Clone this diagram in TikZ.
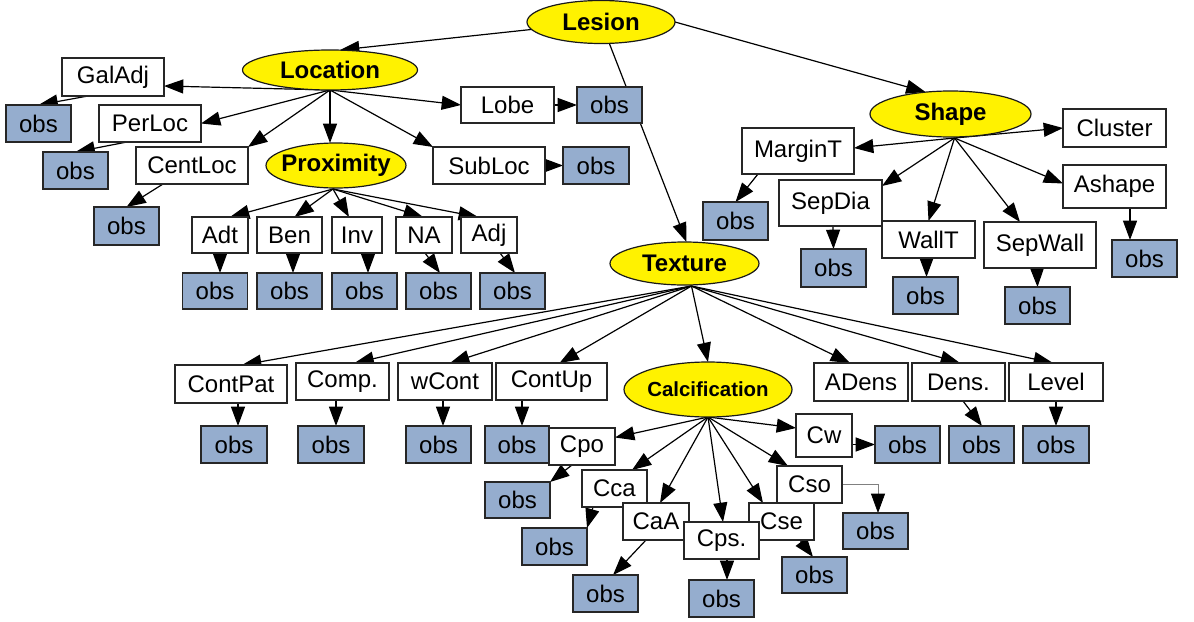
\documentclass[tikz,border=0pt]{standalone}
\usepackage{fontspec}
\setmainfont{Liberation Sans}
\usetikzlibrary{arrows.meta,shapes.geometric,calc}
\definecolor{obsblue}{RGB}{149,173,206}
\pgfdeclarelayer{edges}
\pgfsetlayers{edges,main}
% zero-width label so the ellipse keeps its given size
\newcommand\zw[1]{\makebox[0pt][c]{#1}}
\begin{document}
\begin{tikzpicture}[x=0.75pt,y=-0.75pt,
  every node/.style={inner sep=0pt, outer sep=0pt, font=\fontsize{18}{20}\selectfont},
  sz/.style 2 args={minimum width=#1*0.75pt, minimum height=#2*0.75pt},
  box/.style={rectangle, draw=black!85, line width=0.9pt, fill=white},
  obs/.style={box, fill=obsblue, sz={65}{37}},
  var/.style={ellipse, draw=black!90, line width=0.9pt, fill=yellow,
              font=\bfseries\fontsize{18}{20}\selectfont},
  arr/.style={line width=0.9pt, -{Triangle[length=14.5pt,width=10.5pt]}},
  thinarr/.style={line width=0.5pt, draw=gray, -{Triangle[length=14.5pt,width=10.5pt,color=black]}}
]
\useasboundingbox (0,0) rectangle (1194,621);

% ---------- latent variables ----------
\node[var, sz={148}{43}] (Lesion)    at (601,22)    {\zw{Lesion}};
\node[var, sz={175}{40}] (Location)  at (330,70)    {\zw{Location}};
\node[var, sz={140}{45}] (Proximity) at (336,165.5) {\zw{Proximity}};
\node[var, sz={161}{46}] (Shape)     at (950.5,114) {\zw{Shape}};
\node[var, sz={149}{43}] (Texture)   at (684.5,263.5) {\zw{Texture}};
\node[var, sz={168}{55}, font=\bfseries\fontsize{15.3}{17}\selectfont]
      (Calc) at (708,389.5) {\zw{Calcification}};

% ---------- location branch ----------
\node[box, sz={102}{38}] (GalAdj)  at (113,77)    {GalAdj};
\node[obs]               (oGalAdj) at (38.5,123.5) {obs};
\node[box, sz={102}{37}] (PerLoc)  at (150,123.5) {PerLoc};
\node[obs]               (oPerLoc) at (75.5,170.5) {obs};
\node[box, sz={112}{37}] (CentLoc) at (192,165.5) {CentLoc};
\node[obs, sz={65}{38}]  (oCentLoc) at (126.5,226) {obs};
\node[box, sz={93}{36}]  (Lobe)    at (507.5,105) {Lobe};
\node[obs, sz={65}{36}]  (oLobe)   at (609.5,105) {obs};
\node[box, sz={112}{37}] (SubLoc)  at (489,165.5) {SubLoc};
\node[obs, sz={66}{37}]  (oSubLoc) at (596,165.5) {obs};

% ---------- proximity branch ----------
\node[box, sz={56}{36}] (Adt) at (220,235)   {Adt};
\node[box, sz={65}{36}] (Ben) at (289.5,235) {Ben};
\node[box, sz={50}{36}] (Inv) at (357,235)   {Inv};
\node[box, sz={56}{36}] (NA)  at (424,235)   {NA};
\node[box, sz={56}{36}] (Adj) at (489,235)   {Adj};
\node[obs, sz={65}{36}] (oAdt) at (215,291)   {obs};
\node[obs, sz={65}{36}] (oBen) at (289.5,291) {obs};
\node[obs, sz={65}{36}] (oInv) at (364.5,291) {obs};
\node[obs, sz={65}{36}] (oNA)  at (438.5,291) {obs};
\node[obs, sz={65}{36}] (oAdj) at (512.5,291) {obs};

% ---------- shape branch ----------
\node[box, sz={112}{46}] (MarginT) at (798,151)     {MarginT};
\node[obs, sz={65}{38}]  (oMarginT) at (735.5,221)  {obs};
\node[box, sz={103}{38}] (Cluster) at (1114.5,128)  {Cluster};
\node[box, sz={103}{43}] (Ashape)  at (1114.5,186.5) {Ashape};
\node[obs]               (oAshape) at (1144.5,258.5) {obs};
\node[box, sz={103}{46}] (SepDia)  at (830.5,203)   {SepDia};
\node[obs, sz={65}{38}]  (oSepDia) at (833.5,268)   {obs};
\node[box, sz={93}{37}]  (WallT)   at (928.5,239.5) {WallT};
\node[obs]               (oWallT)  at (925.5,295.5) {obs};
\node[box, sz={112}{46}] (SepWall) at (1040,245)    {SepWall};
\node[obs]               (oSepWall) at (1037.5,305.5) {obs};

% ---------- texture branch ----------
\node[box, sz={112}{38}] (ContPat) at (231,384)     {ContPat};
\node[box, sz={93}{37}]  (Comp)    at (342.5,381.5) {Comp.};
\node[box, sz={94}{37}]  (wCont)   at (445,381.5)   {wCont};
\node[box, sz={111}{37}] (ContUp)  at (551.5,381.5) {ContUp};
\node[obs, sz={66}{37}]  (oContPat) at (234,444.5)  {obs};
\node[obs, sz={66}{37}]  (oComp)   at (331,444.5)   {obs};
\node[obs]               (owCont)  at (438.5,444.5) {obs};
\node[obs, sz={64}{37}]  (oContUp) at (517,444.5)   {obs};
\node[box, sz={94}{38}]  (ADens)   at (861,382)     {ADens};
\node[box, sz={93}{38}]  (Dens)    at (958.5,382)   {Dens.};
\node[box, sz={94}{38}]  (Level)   at (1056,382)    {Level};
\node[obs]               (oDens)   at (981.5,444.5) {obs};
\node[obs, sz={66}{37}]  (oLevel)  at (1056,444.5)  {obs};

% ---------- calcification branch ----------
\node[box, sz={56}{43}] (Cw)   at (824,435.5)   {Cw};
\node[obs]              (oCw)  at (907.5,444.5) {obs};
\node[box, sz={66}{37}] (Cpo)  at (582,446.5)   {Cpo};
\node[obs, sz={65}{36}] (oCpo) at (517.5,500)   {obs};
\node[box, sz={65}{37}] (Cso)  at (809.5,484.5) {Cso};
\node[obs, sz={65}{36}] (oCso) at (875.5,531)   {obs};
\node[box, sz={65}{37}] (Cse)  at (781.5,521.5) {Cse};
\node[obs, sz={65}{36}] (oCse) at (814.5,575)   {obs};
\node[box, sz={65}{37}] (Cca)  at (614.5,488.5) {Cca};
\node[obs]              (oCca) at (554.5,546.5) {obs};
\node[box, sz={66}{37}] (CaA)  at (656,521.5)   {CaA};
\node[obs]              (oCaA) at (605.5,593.5) {obs};
\node[box, sz={75}{37}] (Cps)  at (721.5,540.5) {Cps.};
\node[obs]              (oCps) at (721.5,598.5) {obs};

% ---------- connectors (behind the nodes) ----------
\begin{pgfonlayer}{edges}
\coordinate (pLoc)  at (Location.south);
\coordinate (pProx) at ($(Proximity.south)+(-3,1)$);
\coordinate (pShp)  at ($(Shape.south)+(4,1)$);
\coordinate (pTex)  at ($(Texture.south)+(7,1)$);
\coordinate (pCal)  at (Calc.south);

% root
\draw[arr] (Lesion.center) -- ($(Location.north)+(10,0)$);
\draw[arr] (Lesion.east)   -- ($(Shape.north)+(-25,1)$);
\draw[arr] (Lesion.center) -- ($(Texture.north)+(2,0)$);

% location
\draw[arr] (pLoc) -- ($(GalAdj.east)+(0,9)$);
\draw[arr] (pLoc) -- (PerLoc.east);
\draw[arr] (pLoc) -- (CentLoc.north east);
\draw[arr] (pLoc) -- (pLoc |- Proximity.north);
\draw[arr] (pLoc) -- (Lobe.west);
\draw[arr] (pLoc) -- (SubLoc.north west);
\draw[arr] ($(GalAdj.south)+(-25,0)$)  -- (oGalAdj.north);
\draw[arr] ($(PerLoc.south)+(-23,0)$)  -- (oPerLoc.north);
\draw[arr] ($(CentLoc.south)+(-29,0)$) -- (oCentLoc.north);
\draw[arr] (Lobe.east)   -- (oLobe.west);
\draw[arr] (SubLoc.east) -- (oSubLoc.west);

% proximity
\draw[arr] (pProx) -- ($(Adt.north)+(10,0)$);
\draw[arr] (pProx) -- ($(Ben.north)+(5,0)$);
\draw[arr] (pProx) -- ($(Inv.north)+(-8,0)$);
\draw[arr] (pProx) -- ($(NA.north)+(-1,0)$);
\draw[arr] (pProx) -- ($(Adj.north)+(-11,0)$);
\draw[arr] (Adt.south) -- (Adt.south |- oAdt.north);
\draw[arr] ($(Ben.south)+(3.5,0)$) -- ($(oBen.north)+(3.5,0)$);
\draw[arr] ($(Inv.south)+(11,0)$)  -- ($(oInv.north)+(3.5,0)$);
\draw[arr] ($(NA.south)+(1,0)$)    -- ($(oNA.north)+(1.5,0)$);
\draw[arr] ($(Adj.south)+(11,0)$)  -- ($(oAdj.north)+(2.5,0)$);

% shape
\draw[arr] (pShp) -- ($(MarginT.east)+(0,-3)$);
\draw[arr] (pShp) -- (Cluster.west);
\draw[arr] (pShp) -- ($(SepDia.north east)+(0,6)$);
\draw[arr] (pShp) -- (WallT.north);
\draw[arr] (pShp) -- ($(SepWall.north)+(-20,0)$);
\draw[arr] (pShp) -- ($(Ashape.west)+(0,-3)$);
\draw[arr] ($(MarginT.south)+(-40,0)$) -- (oMarginT.north);
\draw[arr] ($(SepDia.south)+(2.5,0)$)  -- (oSepDia.north);
\draw[arr] ($(WallT.south)+(-2,0)$)    -- ($(oWallT.north)+(1,0)$);
\draw[arr] ($(SepWall.south)+(-3,0)$)  -- (oSepWall.north);
\draw[arr] ($(Ashape.south)+(15.5,0)$) -- ($(oAshape.north)+(-14.5,0)$);

% texture
\draw[arr] (pTex) -- ($(ContPat.north)+(11,0)$);
\draw[arr] (pTex) -- ($(Comp.north)+(12,0)$);
\draw[arr] (pTex) -- ($(wCont.north)+(5,0)$);
\draw[arr] (pTex) -- ($(ContUp.north)+(8,0)$);
\draw[arr] (pTex) -- (Calc.north);
\draw[arr] (pTex) -- ($(ADens.north)+(-11,0)$);
\draw[arr] (pTex) -- ($(Dens.north)+(1.5,0)$);
\draw[arr] (pTex) -- ($(Level.north)+(-3,0)$);
\draw[arr] ($(ContPat.south)+(7,0)$)  -- ($(oContPat.north)+(4,0)$);
\draw[arr] ($(Comp.south)+(-6.5,0)$)  -- ($(oComp.north)+(5,0)$);
\draw[arr] ($(wCont.south)+(-2,0)$)   -- ($(owCont.north)+(4.5,0)$);
\draw[arr] ($(ContUp.south)+(-29.5,0)$) -- ($(oContUp.north)+(5,0)$);
\draw[arr] ($(Dens.south)+(4.5,0)$)   -- ($(oDens.north)+(0.5,0)$);
\draw[arr] (Level.south) -- (oLevel.north);

% calcification
\draw[arr] (pCal) -- ($(Cpo.east)+(0,-9)$);
\draw[arr] (pCal) -- ($(Cca.north)+(17.5,0)$);
\draw[arr] (pCal) -- ($(CaA.north)+(4,0)$);
\draw[arr] (pCal) -- ($(Cps.north)+(1.5,0)$);
\draw[arr] (pCal) -- ($(Cse.north)+(-18.5,0)$);
\draw[arr] (pCal) -- ($(Cso.north)+(-21.5,0)$);
\draw[arr] (pCal) -- ($(Cw.west)+(0,-7.5)$);
\draw[arr] ($(Cw.east)+(0,9)$) -- (oCw.west);
\draw[arr] ($(Cpo.south)+(-10,0)$)   -- (oCpo.north east);
\draw[arr] ($(Cca.south)+(-21.5,0)$) -- (oCca.north east);
\draw[arr] ($(CaA.south)+(-10,0)$)   -- ($(oCaA.north)+(7.5,0)$);
\draw[arr] ($(Cps.south)+(5.5,0)$)   -- ($(oCps.north)+(5.5,0)$);
\draw[arr] ($(Cse.south)+(18.5,0)$)  -- ($(oCse.north)+(-1.5,0)$);
\draw[thinarr] (Cso.east) -| ($(oCso.north)+(2.5,0)$);
\end{pgfonlayer}
\end{tikzpicture}
\end{document}
